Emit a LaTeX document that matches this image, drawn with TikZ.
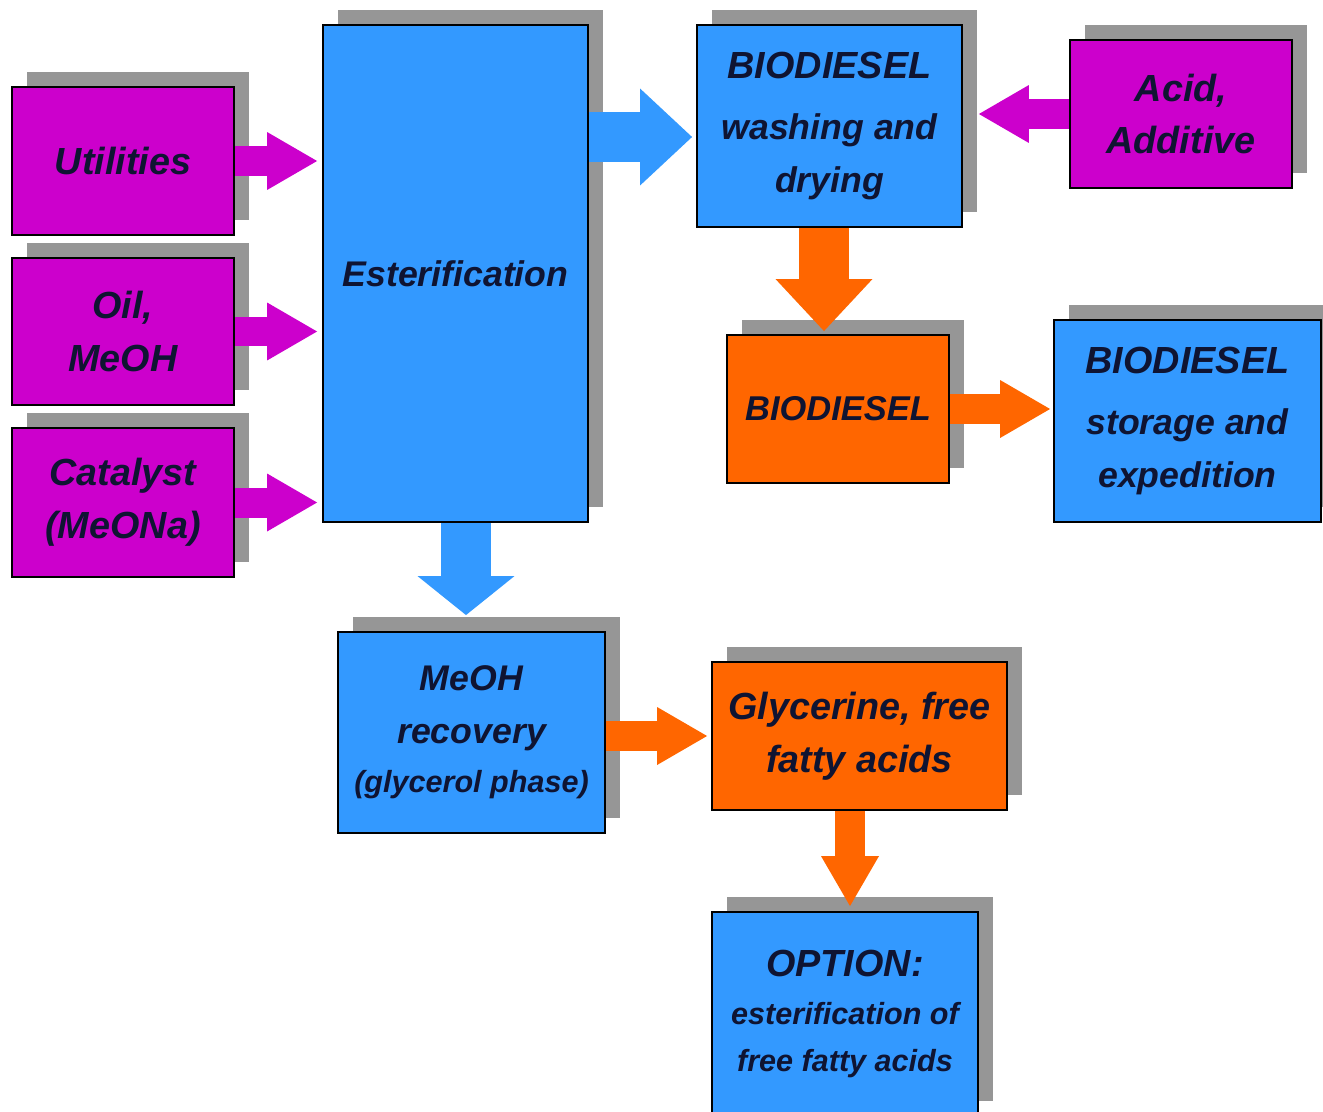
\documentclass[tikz,border=0pt]{standalone}
\usepackage{fontspec}
\setmainfont{Liberation Sans}
\usepackage{xcolor}
\usetikzlibrary{arrows.meta,shadows}

\definecolor{magfill}{RGB}{204,0,204}
\definecolor{bluefill}{RGB}{51,153,255}
\definecolor{orangefill}{RGB}{255,102,0}
\definecolor{shadegray}{RGB}{150,150,150}
\definecolor{navytext}{RGB}{15,20,50}

\newcommand{\bigtxt}{\fontsize{21.5}{30}\selectfont}
\newcommand{\midtxt}{\fontsize{20.3}{30}\selectfont}
\newcommand{\smalltxt}{\fontsize{17.4}{27}\selectfont}

\begin{document}
\begin{tikzpicture}[x=0.02cm, y=-0.02cm,
  box/.style={draw=black, line width=1.1pt, inner sep=0pt, align=center,
    text=navytext, font=\bfseries\itshape\bigtxt,
    drop shadow={shadow xshift=0.3cm, shadow yshift=0.3cm, fill=shadegray, opacity=1}},
  magnode/.style={box, fill=magfill},
  bluenode/.style={box, fill=bluefill},
  orangenode/.style={box, fill=orangefill},
  thinarrow/.style={line width=0.6cm, -{Triangle[length=1cm, width=1.16cm, line width=0pt]}},
  fatarrow/.style={line width=1cm, -{Triangle[length=#1, width=1.94cm, line width=0pt]}},
  fatarrow/.default=1.04cm
]
\useasboundingbox (0,0) rectangle (1323,1112);

% inputs
\node[magnode, minimum width=4.44cm, minimum height=2.96cm] (util) at (123,161) {Utilities};
\node[magnode, minimum width=4.44cm, minimum height=2.94cm] (oil) at (123,331.5) {Oil,\\MeOH};
\node[magnode, minimum width=4.44cm, minimum height=2.98cm] (cat) at (123,502.5) {Catalyst\\(MeONa)};

% process
\node[bluenode, minimum width=5.3cm, minimum height=9.94cm, font=\bfseries\itshape\midtxt] (ester) at (455.5,273.5) {Esterification};
\node[bluenode, minimum width=5.3cm, minimum height=4.04cm, font=\bfseries\itshape\midtxt] (wash) at (829.5,126)
  {{\bigtxt BIODIESEL}\\[5pt]washing and\\drying};
\node[magnode, minimum width=4.44cm, minimum height=2.96cm] (acid) at (1181,114) {Acid,\\Additive};
\node[orangenode, minimum width=4.44cm, minimum height=2.96cm, font=\bfseries\itshape\fontsize{19.6}{30}\selectfont] (bio) at (838,409) {BIODIESEL};
\node[bluenode, minimum width=5.34cm, minimum height=4.04cm, font=\bfseries\itshape\midtxt] (store) at (1187.5,421)
  {{\bigtxt BIODIESEL}\\[5pt]storage and\\expedition};

% glycerol side
\node[bluenode, minimum width=5.34cm, minimum height=4.02cm, font=\bfseries\itshape\midtxt] (meoh) at (471.5,732.5)
  {MeOH\\recovery\\[-2pt]{\smalltxt (glycerol phase)}};
\node[orangenode, minimum width=5.9cm, minimum height=2.96cm] (glyc) at (859.5,736) {Glycerine, free\\fatty acids};
\node[bluenode, minimum width=5.32cm, minimum height=4.08cm, font=\bfseries\itshape\smalltxt] (opt) at (845,1014)
  {{\bigtxt OPTION:}\\esterification of\\free fatty acids};

% flows
\draw[thinarrow, color=magfill, shorten >=0.1cm] (util.east) -- (util.east -| ester.west);
\draw[thinarrow, color=magfill, shorten >=0.1cm] (oil.east) -- (oil.east -| ester.west);
\draw[thinarrow, color=magfill, shorten >=0.1cm] (cat.east) -- (cat.east -| ester.west);

\coordinate (w_in) at ([yshift=-0.22cm]wash.west);
\draw[fatarrow, color=bluefill, shorten >=0.08cm] (ester.east |- w_in) -- (w_in);
\draw[thinarrow, color=magfill, shorten >=0.32cm] (acid.west) -- (acid.west -| wash.east);

\coordinate (w_out) at ([xshift=-0.11cm]wash.south);
\draw[fatarrow, color=orangefill, shorten >=0.06cm] (w_out) -- (w_out |- bio.north);
\draw[thinarrow, color=orangefill, shorten >=0.06cm] (bio.east) -- (bio.east -| store.west);

\coordinate (e_out) at ([xshift=0.21cm]ester.south);
\draw[fatarrow=0.78cm, color=bluefill, shorten >=0.32cm] (e_out) -- (e_out |- meoh.north);
\draw[thinarrow, color=orangefill, shorten >=0.08cm] (glyc.west -| meoh.east) -- (glyc.west);
\coordinate (g_out) at ([xshift=-0.19cm]glyc.south);
\draw[thinarrow, color=orangefill, shorten >=0.1cm] (g_out) -- (g_out |- opt.north);

\end{tikzpicture}
\end{document}
